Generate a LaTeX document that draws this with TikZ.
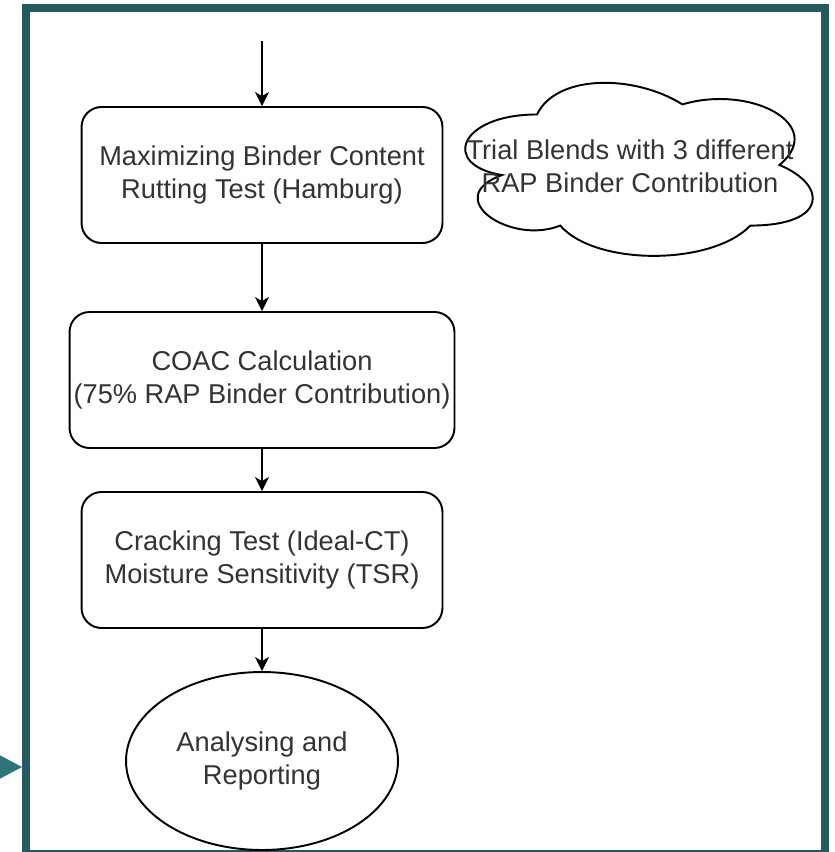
\documentclass[tikz,border=0pt]{standalone}
\usepackage{fontspec}
\setmainfont{Liberation Sans}
\usepackage{tikz}
\usetikzlibrary{shapes.geometric, arrows.meta, positioning}
\definecolor{framecolor}{RGB}{36, 90, 95}
\definecolor{markercolor}{RGB}{46, 116, 121}
\definecolor{labelcolor}{RGB}{51, 51, 51}

\begin{document}
\begin{tikzpicture}[
    x=0.02cm, y=-0.02cm,
    stepbox/.style={draw, line width=1.1pt, fill=white, rounded corners=0.4cm, minimum height=2.72cm, inner sep=0pt, align=center, text=labelcolor, font=\fontsize{15.5}{19}\selectfont},
    endnode/.style={draw, ellipse, line width=1.1pt, fill=white, minimum width=5.44cm, minimum height=3.56cm, inner sep=0pt, align=center, text=labelcolor, font=\fontsize{15.5}{19}\selectfont},
    cloudtext/.style={inner sep=0pt, align=center, text=labelcolor, font=\fontsize{15.5}{19}\selectfont},
    flow/.style={-{Stealth[length=0.28cm, width=0.28cm, inset=0.08cm]}, line width=1.1pt},
]
    \useasboundingbox (0,0) rectangle (835,852);
    \fill[white] (0,0) rectangle (835,852);

    % Frame and marker
    \fill[markercolor] (-10,750) -- (22,767) -- (-10,784) -- cycle;
    \draw[framecolor, line width=0.16cm] (26,8) rectangle (825,854);

    % Steps
    \node[stepbox, minimum width=7.22cm] (maxbinder) at (262,175) {Maximizing Binder Content\\Rutting Test (Hamburg)};
    \node[stepbox, minimum width=7.7cm] (coac) at (262,380) {COAC Calculation\\(75\% RAP Binder Contribution)};
    \node[stepbox, minimum width=7.22cm] (cracking) at (262,560) {Cracking Test (Ideal-CT)\\Moisture Sensitivity (TSR)};
    \node[endnode] (report) at (262,761) {Analysing and\\Reporting};

    % Cloud note
    \begin{scope}[shift={(440,64)}, x=7.76cm, y=-4.04cm]
        \draw[line width=1.1pt, fill=white] (0.25,0.25)
            .. controls (0.05,0.25) and (0,0.5) .. (0.16,0.55)
            .. controls (0,0.66) and (0.18,0.9) .. (0.31,0.8)
            .. controls (0.4,1) and (0.7,1) .. (0.8,0.8)
            .. controls (1,0.8) and (1,0.6) .. (0.875,0.5)
            .. controls (1,0.3) and (0.8,0.1) .. (0.625,0.2)
            .. controls (0.5,0.05) and (0.3,0.05) .. (0.25,0.25) -- cycle;
    \end{scope}
    \node[cloudtext] (trial) at (630,166) {Trial Blends with 3 different\\RAP Binder Contribution};

    % Connectors
    \coordinate (start) at (262,41);
    \draw[flow] (start) -- (maxbinder);
    \draw[flow] (maxbinder) -- (coac);
    \draw[flow] (coac) -- (cracking);
    \draw[flow] (cracking) -- (report);

\end{tikzpicture}
\end{document}
